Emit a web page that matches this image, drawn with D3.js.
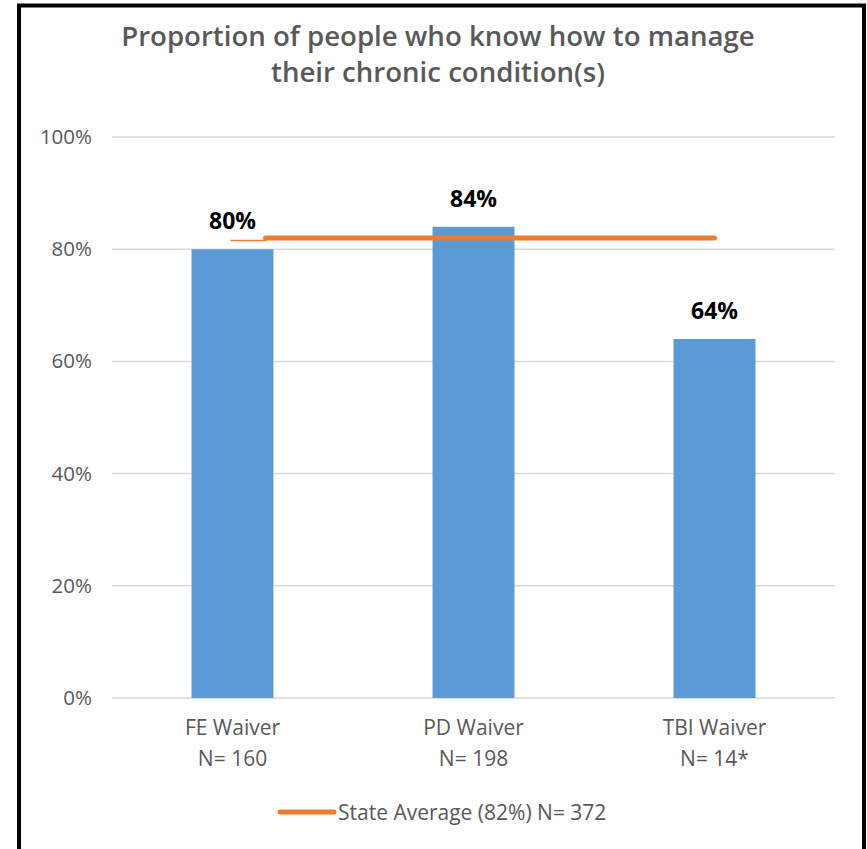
<!DOCTYPE html>
<html>
<head>
<meta charset="utf-8">
<script src="https://cdn.jsdelivr.net/npm/d3@7"></script>
<style>
	body { margin: 0; background: #fff; }
	text { font-family: "Open Sans", Lato, sans-serif; }
</style>
</head>
<body>
<div id="chart"></div>
<script>
let categories	= ["FE Waiver", "PD Waiver", "TBI Waiver"];
let sampleSizes	= ["N= 160", "N= 198", "N= 14*"];
let values		= [0.80, 0.84, 0.64];
let stateAvg	= [0.82, 0.82, 0.82];
let yTicks		= [0, 0.2, 0.4, 0.6, 0.8, 1.0];
let titleLines	= ["Proportion of people who know how to manage", "their chronic condition(s)"];
let legendLabel	= "State Average (82%) N= 372";

function createChart() {
	let canvasWidth		= 867;
	let canvasHeight	= 849;

	let margin			= { top: 137, right: 32, bottom: 151, left: 112 };
	let width			= canvasWidth - margin.left - margin.right;
	let height			= canvasHeight - margin.top - margin.bottom;

	let svg = d3.select("#chart").append("svg")
		.attr("width", canvasWidth)
		.attr("height", canvasHeight);

	// frame around the picture
	svg.append("rect")
		.attr("x", 19)
		.attr("y", 5.5)
		.attr("width", 845)
		.attr("height", 900)
		.attr("fill", "none")
		.attr("stroke", "#000")
		.attr("stroke-width", 4);

	svg.selectAll("text.title")
		.data(titleLines)
		.enter().append("text")
			.attr("class", "title")
			.attr("x", 438)
			.attr("y", (d, i) => 46 + i * 36)
			.attr("text-anchor", "middle")
			.attr("font-size", 27.6)
			.attr("font-weight", 600)
			.attr("fill", "#595959")
			.text((d) => d);

	let g = svg.append("g")
		.attr("transform", "translate(" + margin.left + "," + margin.top + ")");

	let x = d3.scaleBand()
		.domain(categories)
		.range([0, width])
		.paddingInner(0.66)
		.paddingOuter(0.33);

	let xc = d3.scalePoint()
		.domain(categories)
		.range([0, width])
		.padding(0.5);

	let y = d3.scaleLinear()
		.domain([0, 1])
		.range([height, 0]);

	// gridlines
	g.selectAll("line.grid")
		.data(yTicks)
		.enter().append("line")
			.attr("class", "grid")
			.attr("x1", 0)
			.attr("x2", width)
			.attr("y1", (d) => y(d))
			.attr("y2", (d) => y(d))
			.attr("stroke", "#d9d9d9")
			.attr("stroke-width", 1.5);

	let yAxis = g.append("g")
		.call(d3.axisLeft(y).tickValues(yTicks).tickFormat(d3.format(".0%")).tickSize(0).tickPadding(20));
	yAxis.select(".domain").remove();
	yAxis.selectAll("text")
		.attr("font-size", 20.5)
		.attr("fill", "#595959")
		.style("font-family", "'Open Sans', Lato, sans-serif");

	g.selectAll("rect.bar")
		.data(values)
		.enter().append("rect")
			.attr("class", "bar")
			.attr("x", (d, i) => x(categories[i]))
			.attr("y", (d) => y(d))
			.attr("width", x.bandwidth())
			.attr("height", (d) => height - y(d))
			.attr("fill", "#5b9bd5");

	g.selectAll("text.value")
		.data(values)
		.enter().append("text")
			.attr("class", "value")
			.attr("x", (d, i) => xc(categories[i]))
			.attr("y", (d) => y(d) - 20)
			.attr("text-anchor", "middle")
			.attr("font-size", 23)
			.attr("font-weight", "bold")
			.attr("fill", "#000")
			.text(d3.format(".0%"));

	// state average line, with the thin start seen in the original
	let x0 = xc(categories[0]);
	g.append("line")
		.attr("x1", x0 - 2)
		.attr("x2", x0 + 34)
		.attr("y1", y(stateAvg[0]) + 2.5)
		.attr("y2", y(stateAvg[0]) + 2.5)
		.attr("stroke", "#ed7d31")
		.attr("stroke-width", 1.6);

	let line = d3.line()
		.x((d, i) => (i === 0 ? x0 + 33 : xc(categories[i])))
		.y((d) => y(d));

	g.append("path")
		.datum(stateAvg)
		.attr("d", line)
		.attr("fill", "none")
		.attr("stroke", "#ed7d31")
		.attr("stroke-width", 5)
		.attr("stroke-linecap", "round");

	// category labels
	let xl = g.selectAll("g.xlabel")
		.data(categories)
		.enter().append("g")
			.attr("class", "xlabel")
			.attr("transform", (d) => "translate(" + xc(d) + "," + height + ")");
	xl.append("text")
		.attr("y", 37)
		.attr("text-anchor", "middle")
		.attr("font-size", 21)
		.attr("fill", "#595959")
		.text((d) => d);
	xl.append("text")
		.attr("y", 68)
		.attr("text-anchor", "middle")
		.attr("font-size", 21)
		.attr("fill", "#595959")
		.text((d, i) => sampleSizes[i]);

	// legend
	let legend = svg.append("g")
		.attr("transform", "translate(280,812)");
	legend.append("line")
		.attr("x1", 0)
		.attr("x2", 54)
		.attr("stroke", "#ed7d31")
		.attr("stroke-width", 5)
		.attr("stroke-linecap", "round");
	legend.append("text")
		.attr("x", 58)
		.attr("y", 7.5)
		.attr("font-size", 21)
		.attr("fill", "#595959")
		.text(legendLabel);
}

createChart();
</script>
</body>
</html>
